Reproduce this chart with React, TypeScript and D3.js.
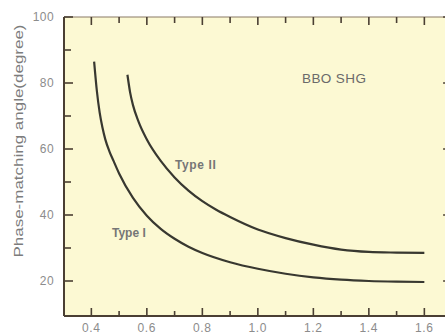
import React from "react";
import * as d3 from "d3";

// BBO second-harmonic generation: phase-matching angle vs fundamental wavelength (µm)
const typeIWavelength = [0.41, 0.42, 0.43, 0.44, 0.45, 0.465, 0.48, 0.5, 0.55, 0.6, 0.65, 0.7, 0.75, 0.8, 0.9, 1.0, 1.1, 1.2, 1.3, 1.4, 1.5, 1.6];
const typeIAngle = [86.5, 77.5, 71.0, 66.5, 63.0, 59.3, 56.4, 52.6, 45.2, 39.8, 35.8, 32.8, 30.4, 28.5, 25.7, 23.7, 22.2, 21.1, 20.4, 20.0, 19.8, 19.7];

const typeIIWavelength = [0.53, 0.54, 0.55, 0.57, 0.6, 0.65, 0.7, 0.75, 0.8, 0.85, 0.9, 1.0, 1.1, 1.2, 1.3, 1.4, 1.5, 1.6];
const typeIIAngle = [82.5, 77.0, 73.3, 68.3, 62.9, 56.4, 51.4, 47.4, 44.2, 41.6, 39.4, 35.6, 33.0, 31.0, 29.5, 28.8, 28.6, 28.5];

const xMajorTicks = [0.4, 0.6, 0.8, 1.0, 1.2, 1.4, 1.6];
const xMinorTicks = [0.5, 0.7, 0.9, 1.1, 1.3, 1.5];
const yMajorTicks = [20, 40, 60, 80, 100];
const yMinorTicks = [30, 50, 70, 90];

const W = 445;
const H = 334;
const left = 64;
const top = 17;
const bottom = 316;

const x = d3.scaleLinear().domain([0.3, 1.7]).range([63.6, 452.1]);
const y = d3.scaleLinear().domain([10, 100]).range([314, 17]);

const line = d3
  .line<[number, number]>()
  .x((d) => x(d[0]))
  .y((d) => y(d[1]))
  .curve(d3.curveMonotoneX);

const typeI = typeIWavelength.map((w, i) => [w, typeIAngle[i]] as [number, number]);
const typeII = typeIIWavelength.map((w, i) => [w, typeIIAngle[i]] as [number, number]);

const font = "'Liberation Sans', Arial, sans-serif";
const axisColor = "#4a3f33";
const rightEdge = x(1.7);

export default function App() {
  return (
    <svg
      width={W}
      height={H}
      style={{ position: "absolute", left: 0, top: 0, background: "#fff" }}
    >
      <rect x={left} y={top} width={W - left} height={bottom - top} fill="#fcf9d3" />

      {/* frame */}
      <line x1={left} x2={W} y1={top} y2={top} stroke="#8a7a66" strokeWidth={1.2} />
      <line x1={left} x2={left} y1={top} y2={bottom} stroke={axisColor} strokeWidth={2} />
      <line x1={left} x2={W} y1={bottom} y2={bottom} stroke={axisColor} strokeWidth={2} />

      {/* x ticks, bottom and top */}
      {xMajorTicks.map((t) => (
        <g key={"xM" + t}>
          <line x1={x(t)} x2={x(t)} y1={bottom} y2={bottom - 8} stroke={axisColor} strokeWidth={1.6} />
          <line x1={x(t)} x2={x(t)} y1={top} y2={top + 8} stroke={axisColor} strokeWidth={1.6} />
          <text
            x={x(t)}
            y={332}
            textAnchor="middle"
            fontFamily={font}
            fontSize={12}
            fill="#8c8c8c"
            letterSpacing={0.6}
          >
            {t.toFixed(1)}
          </text>
        </g>
      ))}
      {xMinorTicks.map((t) => (
        <g key={"xm" + t}>
          <line x1={x(t)} x2={x(t)} y1={bottom} y2={bottom - 5} stroke={axisColor} strokeWidth={1.6} />
          <line x1={x(t)} x2={x(t)} y1={top} y2={top + 6} stroke={axisColor} strokeWidth={1.6} />
        </g>
      ))}

      {/* y ticks, left and right */}
      {yMajorTicks.map((t) => (
        <g key={"yM" + t}>
          <line x1={left} x2={left + 9} y1={y(t)} y2={y(t)} stroke={axisColor} strokeWidth={1.6} />
          <line x1={rightEdge} x2={rightEdge - 9} y1={y(t)} y2={y(t)} stroke={axisColor} strokeWidth={1.6} />
          <text
            x={54}
            y={y(t) + 4}
            textAnchor="end"
            fontFamily={font}
            fontSize={12}
            fill="#8c8c8c"
            letterSpacing={0.4}
          >
            {t}
          </text>
        </g>
      ))}
      {yMinorTicks.map((t) => (
        <g key={"ym" + t}>
          <line x1={left} x2={left + 7} y1={y(t)} y2={y(t)} stroke={axisColor} strokeWidth={1.6} />
          <line x1={rightEdge} x2={rightEdge - 7} y1={y(t)} y2={y(t)} stroke={axisColor} strokeWidth={1.6} />
        </g>
      ))}

      <text
        transform="translate(23,141) rotate(-90)"
        textAnchor="middle"
        fontFamily={font}
        fontSize={13}
        fill="#7c7c7c"
        textLength={233}
        lengthAdjust="spacingAndGlyphs"
      >
        Phase-matching angle(degree)
      </text>

      <path d={line(typeI) ?? ""} fill="none" stroke="#383830" strokeWidth={2.2} />
      <path d={line(typeII) ?? ""} fill="none" stroke="#383830" strokeWidth={2.2} />

      <text x={112} y={237} fontFamily={font} fontSize={12} fontWeight="bold" fill="#767676">
        Type I
      </text>
      <text x={175} y={169} fontFamily={font} fontSize={12} fontWeight="bold" fill="#767676" letterSpacing={0.6}>
        Type II
      </text>
      <text x={302} y={83} fontFamily={font} fontSize={13.5} fill="#6a6a6a" letterSpacing={0.4}>
        BBO SHG
      </text>
    </svg>
  );
}
